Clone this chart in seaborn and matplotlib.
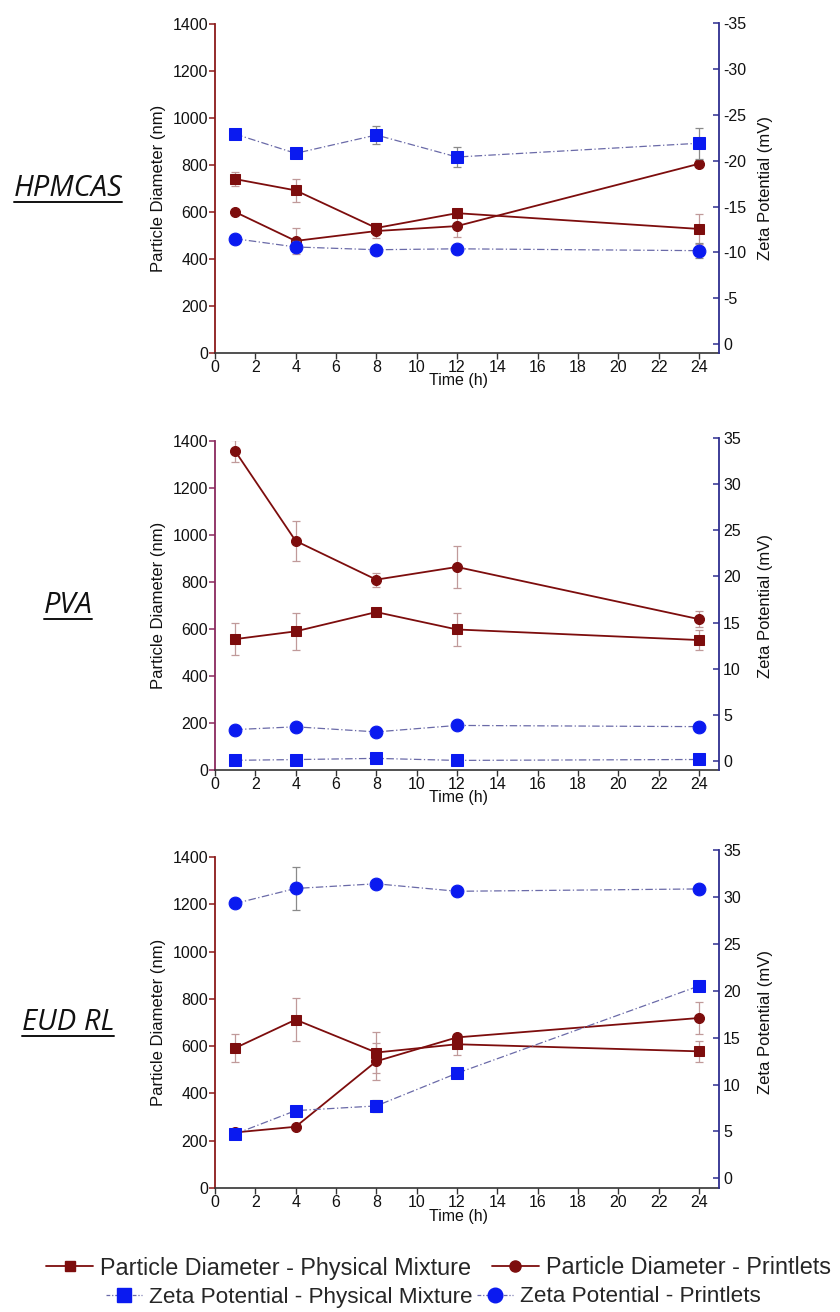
import matplotlib
matplotlib.use("Agg")
import matplotlib.pyplot as plt
from matplotlib.lines import Line2D
import seaborn as sns

sns.set_theme(style="ticks")
plt.rcParams['font.family'] = ['Liberation Sans', 'DejaVu Sans']
plt.rcParams['axes.unicode_minus'] = False

# ---------------- data ----------------
time_h = [1, 4, 8, 12, 24]
panel_names = ["HPMCAS", "PVA", "EUD RL"]

# HPMCAS
hpmcas_pd_pm = [740, 692, 532, 595, 528]
hpmcas_pd_pm_err = [30, 50, 20, 10, 65]
hpmcas_pd_pr = [600, 477, 519, 540, 805]
hpmcas_pd_pr_err = [12, 55, 30, 45, 15]
hpmcas_zp_pm = [-22.9, -20.8, -22.8, -20.4, -21.9]
hpmcas_zp_pm_err = [0.3, 0.3, 1.0, 1.1, 1.7]
hpmcas_zp_pr = [-11.5, -10.6, -10.3, -10.4, -10.2]
hpmcas_zp_pr_err = [0.3, 0.6, 0.3, 0.3, 0.8]

# PVA
pva_pd_pm = [557, 590, 672, 598, 553]
pva_pd_pm_err = [68, 78, 12, 70, 42]
pva_pd_pr = [1357, 975, 810, 864, 642]
pva_pd_pr_err = [47, 85, 30, 90, 35]
pva_zp_pm = [0.07, 0.15, 0.28, 0.06, 0.16]
pva_zp_pm_err = [0.1, 0.1, 0.1, 0.1, 0.1]
pva_zp_pr = [3.4, 3.7, 3.15, 3.85, 3.72]
pva_zp_pr_err = [0.2, 0.2, 0.2, 0.2, 0.2]

# EUD RL
eud_pd_pm = [592, 712, 573, 608, 578]
eud_pd_pm_err = [60, 92, 85, 45, 45]
eud_pd_pr = [235, 259, 536, 637, 719]
eud_pd_pr_err = [10, 10, 78, 15, 67]
eud_zp_pm = [4.73, 7.22, 7.72, 11.2, 20.5]
eud_zp_pm_err = [0.5, 0.3, 0.6, 0.3, 0.2]
eud_zp_pr = [29.3, 30.9, 31.4, 30.6, 30.85]
eud_zp_pr_err = [0.3, 2.3, 0.3, 0.5, 0.3]

x_ticks = list(range(0, 25, 2))
pd_ticks = list(range(0, 1401, 200))
zp_ticks_neg = [0, -5, -10, -15, -20, -25, -30, -35]
zp_ticks_pos = [0, 5, 10, 15, 20, 25, 30, 35]

legend_labels = ["Particle Diameter - Physical Mixture", "Particle Diameter - Printlets",
                 "Zeta Potential - Physical Mixture", "Zeta Potential - Printlets"]

# ---------------- style ----------------
RED = '#7d0d0d'
RED_ERR = '#c09a9a'
BLUE = '#0a1af0'
BLUE_LINE = '#6a6aa8'
BLUE_ERR = '#8a8a8a'
RIGHT_SPINE = '#2e2e90'
DASHDOT = (0, (6, 2, 1, 2))

W, H = 840, 1312
fig = plt.figure(figsize=(W / 100, H / 100), dpi=100)

panels = [
    dict(name="HPMCAS", top=24, bottom=353, rtop=23,
         pd=(hpmcas_pd_pm, hpmcas_pd_pm_err, hpmcas_pd_pr, hpmcas_pd_pr_err),
         zp=(hpmcas_zp_pm, hpmcas_zp_pm_err, hpmcas_zp_pr, hpmcas_zp_pr_err),
         zlim=(0.95, -35), zticks=zp_ticks_neg, lspine='#8b1a1a'),
    dict(name="PVA", top=441, bottom=770, rtop=438,
         pd=(pva_pd_pm, pva_pd_pm_err, pva_pd_pr, pva_pd_pr_err),
         zp=(pva_zp_pm, pva_zp_pm_err, pva_zp_pr, pva_zp_pr_err),
         zlim=(-0.98, 35), zticks=zp_ticks_pos, lspine='#8a2a5e'),
    dict(name="EUD RL", top=857, bottom=1188, rtop=850,
         pd=(eud_pd_pm, eud_pd_pm_err, eud_pd_pr, eud_pd_pr_err),
         zp=(eud_zp_pm, eud_zp_pm_err, eud_zp_pr, eud_zp_pr_err),
         zlim=(-1.03, 35), zticks=zp_ticks_pos, lspine='#8b1a1a'),
]

LEFT, RIGHT = 215, 719
TICK_FS = 11.5
LABEL_FS = 12

name_texts = []
for p in panels:
    h = p['bottom'] - p['top']
    rect = [LEFT / W, 1 - p['bottom'] / H, (RIGHT - LEFT) / W, h / H]
    ax = fig.add_axes(rect)
    rh = p['bottom'] - p['rtop']
    rect2 = [LEFT / W, 1 - p['bottom'] / H, (RIGHT - LEFT) / W, rh / H]
    ax2 = fig.add_axes(rect2, sharex=ax)
    ax.patch.set_visible(False)
    ax2.patch.set_visible(False)

    pm, pm_err, pr, pr_err = p['pd']
    # particle diameter
    ax.errorbar(time_h, pm, yerr=pm_err, fmt='none', ecolor=RED_ERR, elinewidth=0.9,
                capsize=3, capthick=0.9, zorder=2)
    ax.errorbar(time_h, pr, yerr=pr_err, fmt='none', ecolor=RED_ERR, elinewidth=0.9,
                capsize=3, capthick=0.9, zorder=2)
    sns.lineplot(x=time_h, y=pm, ax=ax, color=RED, marker='s', markersize=6.5,
                 markeredgecolor=RED, markerfacecolor=RED, linewidth=1.3,
                 errorbar=None, legend=False, zorder=3)
    sns.lineplot(x=time_h, y=pr, ax=ax, color=RED, marker='o', markersize=7.2,
                 markeredgecolor=RED, markerfacecolor=RED, linewidth=1.3,
                 errorbar=None, legend=False, zorder=3)

    zpm, zpm_err, zpr, zpr_err = p['zp']
    ax2.errorbar(time_h, zpm, yerr=zpm_err, fmt='none', ecolor=BLUE_ERR, elinewidth=0.9,
                 capsize=3, capthick=0.9, zorder=2)
    ax2.errorbar(time_h, zpr, yerr=zpr_err, fmt='none', ecolor=BLUE_ERR, elinewidth=0.9,
                 capsize=3, capthick=0.9, zorder=2)
    sns.lineplot(x=time_h, y=zpm, ax=ax2, color=BLUE_LINE, marker='s', markersize=8.2,
                 markeredgecolor=BLUE, markerfacecolor=BLUE, linewidth=0.9,
                 linestyle=DASHDOT, errorbar=None, legend=False, zorder=3)
    sns.lineplot(x=time_h, y=zpr, ax=ax2, color=BLUE_LINE, marker='o', markersize=9.2,
                 markeredgecolor=BLUE, markerfacecolor=BLUE, linewidth=0.9,
                 linestyle=DASHDOT, errorbar=None, legend=False, zorder=3)

    # left axis
    ax.set_xlim(0, 25)
    ax.set_ylim(0, 1400)
    ax.set_xticks(x_ticks)
    ax.set_yticks(pd_ticks)
    for s in ['top', 'right']:
        ax.spines[s].set_visible(False)
    ax.spines['left'].set_color(p['lspine'])
    ax.spines['left'].set_linewidth(1.3)
    ax.spines['bottom'].set_color('#333333')
    ax.spines['bottom'].set_linewidth(1.2)
    ax.tick_params(axis='y', direction='out', length=4, width=1.1, color=p['lspine'],
                   labelsize=TICK_FS, pad=1, labelcolor='#111111')
    ax.tick_params(axis='x', direction='out', length=4, width=1.0, color='#333333',
                   labelsize=TICK_FS, pad=1, labelcolor='#111111')
    ax.set_ylabel("Particle Diameter (nm)", fontsize=LABEL_FS, color='#111111')
    ax.yaxis.set_label_coords(-0.097, 0.5)
    ax.set_xlabel("Time (h)", fontsize=LABEL_FS - 0.5, color='#111111')
    ax.xaxis.set_label_coords(0.484, -0.062)

    # right axis
    ax2.set_ylim(*p['zlim'])
    ax2.set_yticks(p['zticks'])
    for s in ['top', 'left', 'bottom']:
        ax2.spines[s].set_visible(False)
    ax2.spines['right'].set_color(RIGHT_SPINE)
    ax2.spines['right'].set_linewidth(1.3)
    ax2.yaxis.tick_right()
    ax2.yaxis.set_label_position('right')
    ax2.tick_params(axis='x', bottom=False, labelbottom=False, top=False)
    ax2.tick_params(axis='y', direction='in', length=4, width=1.1, color=RIGHT_SPINE,
                    labelsize=TICK_FS, pad=3, labelcolor='#111111')
    ax2.set_ylabel("Zeta Potential (mV)", fontsize=LABEL_FS, color='#111111')
    ax2.yaxis.set_label_coords(1.078, 0.5 * h / rh)

    cy = (p['top'] + p['bottom']) / 2
    t = fig.text(68 / W, 1 - cy / H, p['name'], ha='center', va='center',
                 fontsize=21, style='italic', family=['Open Sans', 'DejaVu Sans'],
                 color='#111111')
    name_texts.append(t)

# legends
h_pd_pm = Line2D([], [], color=RED, lw=1.3, marker='s', ms=7, mfc=RED, mec=RED)
h_pd_pr = Line2D([], [], color=RED, lw=1.3, marker='o', ms=8, mfc=RED, mec=RED)
h_zp_pm = Line2D([], [], color=BLUE_LINE, lw=0.9, ls=(0, (3, 1.5, 1, 1.5)), marker='s',
                 ms=9.5, mfc=BLUE, mec=BLUE)
h_zp_pr = Line2D([], [], color=BLUE_LINE, lw=0.9, ls=(0, (3, 1.5, 1, 1.5)), marker='o',
                 ms=10.5, mfc=BLUE, mec=BLUE)

LEG_FS = 16.8
fig.legend([h_pd_pm, h_pd_pr], legend_labels[:2], loc='center',
           bbox_to_anchor=(0.522, 1 - 1268 / H), ncol=2, frameon=False, fontsize=LEG_FS,
           handlelength=2.0, handletextpad=0.3, columnspacing=0.9, borderpad=0)
fig.legend([h_zp_pm, h_zp_pr], legend_labels[2:], loc='center',
           bbox_to_anchor=(0.516, 1 - 1297 / H), ncol=2, frameon=False, fontsize=16.2,
           handlelength=1.6, handletextpad=0.3, columnspacing=0.2, borderpad=0)

# underline panel names
fig.canvas.draw()
renderer = fig.canvas.get_renderer()
for t in name_texts:
    bb = t.get_window_extent(renderer)
    y = bb.y0 + 1
    fig.add_artist(Line2D([bb.x0 / W, bb.x1 / W], [y / H, y / H],
                          transform=fig.transFigure, color='#111111', lw=1.4))

fig.savefig("out.png", dpi=100)
